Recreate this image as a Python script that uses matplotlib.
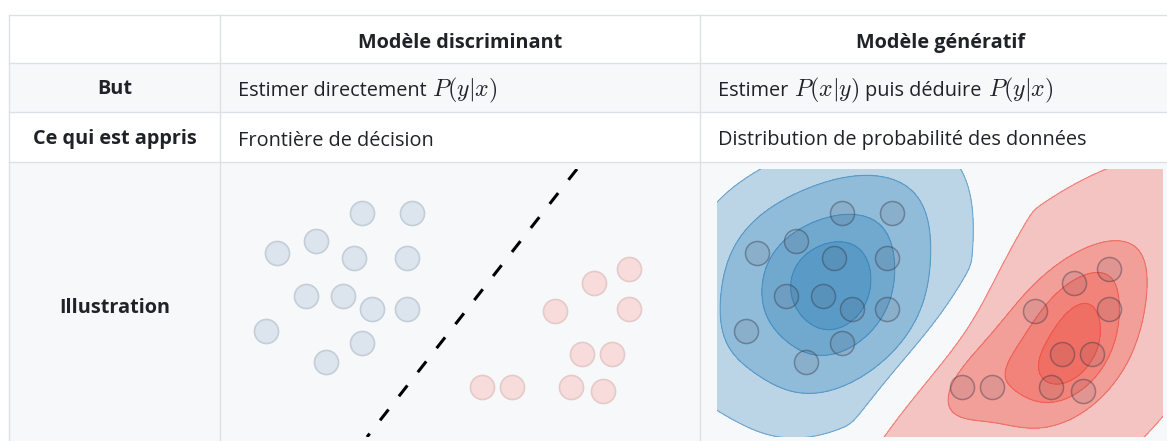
import numpy as np
import matplotlib
matplotlib.use("Agg")
import matplotlib.pyplot as plt
from matplotlib.patches import Rectangle

plt.rcParams['font.family'] = ['Open Sans', 'DejaVu Sans']
plt.rcParams['mathtext.fontset'] = 'cm'

# table content
col_headers = ["Modèle discriminant", "Modèle génératif"]
row_labels = ["But", "Ce qui est appris", "Illustration"]
discr_cells = [["Estimer directement", "$P(y|x)$"], ["Frontière de décision"]]
gen_cells = [["Estimer", "$P(x|y)$", "puis déduire", "$P(y|x)$"],
             ["Distribution de probabilité des données"]]

# illustration data (pixel units inside each picture, y going down)
blue_x = [125, 175, 79, 40, 117, 170, 69, 106, 135, 170, 29, 125, 89]
blue_y = [44, 44, 72, 84, 89, 89, 127, 127, 140, 140, 162, 174, 193]
red_x = [392, 357, 318, 392, 345, 375, 245, 275, 334, 366]
red_y = [100, 114, 142, 140, 185, 185, 218, 218, 218, 222]
boundary_x = [340, 130]
boundary_y = [0, 268]
# density levels (fraction of the peak) for the generative picture
blue_levels = [0.06, 0.30, 0.65, 0.86]
red_levels = [0.008, 0.40, 0.70, 0.88]

W, H = 1167, 441
col_edges = [9, 220, 700, 1180]
row_edges = [15, 63, 112, 162, 450]
row_bg = ['white', '#f6f8fa', 'white', '#f6f8fa']
line_col = '#dde1e6'
txt_col = '#1f2328'
FS = 14.3
BW = 0.9     # kernel width relative to the data spread
RATIO = 6.0  # margin between the two outer regions


def kde(x, y, xx, yy):
    pts = np.vstack([x, y]).astype(float)
    cov = np.cov(pts) * BW ** 2
    inv = np.linalg.inv(cov)
    g = np.stack([xx.ravel(), yy.ravel()])
    dens = np.zeros(g.shape[1])
    for i in range(pts.shape[1]):
        d = g - pts[:, i:i + 1]
        dens += np.exp(-0.5 * np.sum(d * (inv @ d), axis=0))
    return dens.reshape(xx.shape) / pts.shape[1]


def draw_kde(ax, dens, other, levels, color, xx, yy):
    peak = dens.max()
    for k, lev in enumerate(levels):
        f = dens / peak
        if k == 0:
            # keep the outer band away from the other class (soft minimum)
            b = lev * dens / (RATIO * other + 1e-300)
            f = (f ** -6 + b ** -6) ** (-1 / 6)
        ax.contourf(xx, yy, f, levels=[lev, 1.01], colors=[color], alpha=0.27)
        ax.contour(xx, yy, f, levels=[lev], colors=[color], linewidths=0.8, alpha=0.5)


def rich_text(ax, x, y, parts):
    prev = None
    for p in parts:
        size = FS * 1.2 if p.startswith('$') else FS
        if prev is None:
            prev = ax.text(x, y, p, ha='left', va='baseline', fontsize=size, color=txt_col)
        else:
            prev = ax.annotate(p, xy=(1, y), xycoords=(prev, 'data'), xytext=(4.2, 0),
                               textcoords='offset points', ha='left', va='baseline',
                               fontsize=size, color=txt_col)


fig = plt.figure(figsize=(W / 100, H / 100), dpi=100)
ax = fig.add_axes([0, 0, 1, 1])
ax.set_xlim(0, W)
ax.set_ylim(H, 0)
ax.axis('off')

# row backgrounds and grid lines
for i, bg in enumerate(row_bg):
    ax.add_patch(Rectangle((col_edges[0], row_edges[i]), W, row_edges[i + 1] - row_edges[i],
                           facecolor=bg, edgecolor='none', zorder=0))
for yv in row_edges[:-1]:
    ax.plot([col_edges[0], W], [yv, yv], color=line_col, lw=1, zorder=1)
for xv in col_edges[:-1]:
    ax.plot([xv, xv], [row_edges[0], H], color=line_col, lw=1, zorder=1)

# header row
for j, h in enumerate(col_headers):
    xc = (col_edges[j + 1] + col_edges[j + 2]) / 2
    ax.text(xc, 48, h, ha='center', va='baseline', fontsize=FS, fontweight='bold', color=txt_col)

# first column labels
for i, lab in enumerate(row_labels):
    yc = (row_edges[i + 1] + row_edges[i + 2]) / 2
    ax.text((col_edges[0] + col_edges[1]) / 2, yc + 2, lab, ha='center', va='center',
            fontsize=FS, fontweight='bold', color=txt_col)

# body cells
for i in range(2):
    yb = (row_edges[i + 1] + row_edges[i + 2]) / 2 + 8.5
    rich_text(ax, col_edges[1] + 18, yb, discr_cells[i])
    rich_text(ax, col_edges[2] + 18, yb, gen_cells[i])

# illustrations
pic_w, pic_h, pic_top = 446, 268, 169
axes_pic = []
for left in (237, 717):
    a = fig.add_axes([left / W, 1 - (pic_top + pic_h) / H, pic_w / W, pic_h / H])
    a.set_xlim(0, pic_w)
    a.set_ylim(pic_h, 0)
    a.axis('off')
    axes_pic.append(a)

a1, a2 = axes_pic
a1.scatter(blue_x, blue_y, s=300, facecolor='#dce4ed', edgecolor='#c5ced8', lw=1.2, zorder=2)
a1.scatter(red_x, red_y, s=300, facecolor='#f8dcdc', edgecolor='#e5caca', lw=1.2, zorder=2)
a1.plot(boundary_x, boundary_y, color='black', lw=2.2, linestyle=(0, (4.5, 5.5)), zorder=3)

gx = np.linspace(-20, pic_w + 20, 500)
gy = np.linspace(-20, pic_h + 20, 320)
xx, yy = np.meshgrid(gx, gy)
dens_b = kde(blue_x, blue_y, xx, yy)
dens_r = kde(red_x, red_y, xx, yy)
draw_kde(a2, dens_b, dens_r, blue_levels, '#1f77b4', xx, yy)
draw_kde(a2, dens_r, dens_b, red_levels, '#ef3b2c', xx, yy)
a2.scatter(blue_x + red_x, blue_y + red_y, s=300, facecolor=(0.3, 0.3, 0.35, 0.1),
           edgecolor=(0.2, 0.2, 0.25, 0.4), lw=1.1, zorder=3)

fig.savefig("out.png", dpi=100)
